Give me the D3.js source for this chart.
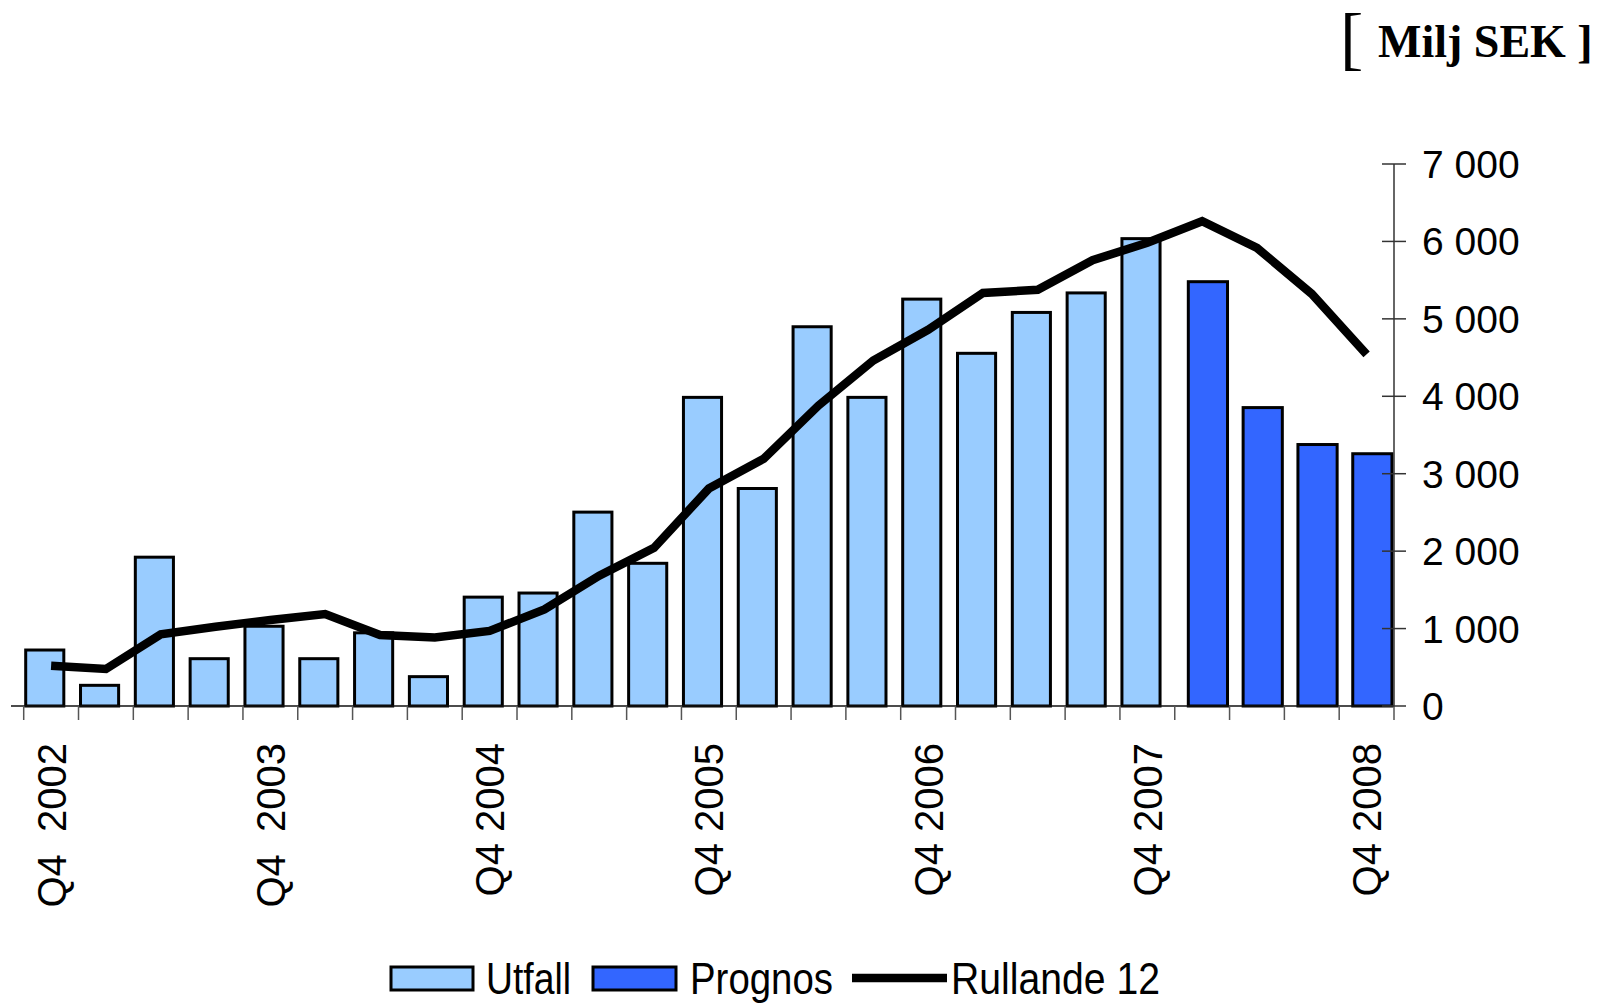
<!DOCTYPE html>
<html><head><meta charset="utf-8">
<script src="https://cdn.jsdelivr.net/npm/d3@7"></script>
<style>
html,body{margin:0;padding:0;background:#fff;}
svg{display:block;}
text{font-family:"Liberation Sans",Arial,sans-serif;fill:#000;}
</style></head>
<body>
<svg id="chart" width="1606" height="1005"></svg>
<script>
const categories = ["Q4 2002","Q1 2003","Q2 2003","Q3 2003","Q4 2003","Q1 2004","Q2 2004","Q3 2004","Q4 2004","Q1 2005","Q2 2005","Q3 2005","Q4 2005","Q1 2006","Q2 2006","Q3 2006","Q4 2006","Q1 2007","Q2 2007","Q3 2007","Q4 2007","Q1 2008","Q2 2008","Q3 2008","Q4 2008"];
const utfall = [723, 267, 1922, 611, 1030, 611, 945, 379, 1406, 1459, 2504, 1843, 3986, 2809, 4898, 3986, 5255, 4555, 5083, 5335, 6036, null, null, null, null];
const prognos = [null, null, null, null, null, null, null, null, null, null, null, null, null, null, null, null, null, null, null, null, null, 5480, 3854, 3377, 3258];
const rullande = [520, 478, 925, 1023, 1110, 1188, 917, 885, 970, 1247, 1684, 2042, 2809, 3192, 3880, 4462, 4859, 5335, 5375, 5758, 5983, 6261, 5916, 5322, 4541];
const yTicks = [0, 1000, 2000, 3000, 4000, 5000, 6000, 7000];
const xTickLabels = {"Q4 2002":"Q4  2002","Q4 2003":"Q4  2003","Q4 2004":"Q4 2004","Q4 2005":"Q4 2005","Q4 2006":"Q4 2006","Q4 2007":"Q4 2007","Q4 2008":"Q4 2008"};
const legendItems = ["Utfall","Prognos","Rullande 12"];

const svg = d3.select("#chart");
const x = d3.scaleBand().domain(categories).range([23.7, 1394]).paddingInner(0).paddingOuter(0);
const y = d3.scaleLinear().domain([0, 7000]).range([706, 164]);
const bw = x.bandwidth();

// Utfall bars
svg.append("g").selectAll("rect").data(categories.map((c,i)=>({c,v:utfall[i]})).filter(d=>d.v!=null))
  .join("rect")
  .attr("x", d => x(d.c) + 2)
  .attr("width", bw*0.75 - 3)
  .attr("y", d => y(d.v))
  .attr("height", d => y(0) - y(d.v))
  .attr("fill", "#99CCFF").attr("stroke", "#000").attr("stroke-width", 3);

// Prognos bars
svg.append("g").selectAll("rect").data(categories.map((c,i)=>({c,v:prognos[i]})).filter(d=>d.v!=null))
  .join("rect")
  .attr("x", d => x(d.c) + bw*0.22 + 1.5)
  .attr("width", bw*0.77 - 3)
  .attr("y", d => y(d.v))
  .attr("height", d => y(0) - y(d.v))
  .attr("fill", "#3366FF").attr("stroke", "#000").attr("stroke-width", 3);

// X axis
const xa = svg.append("g");
xa.append("line").attr("x1", 11).attr("x2", 1394).attr("y1", y(0)).attr("y2", y(0)).attr("stroke", "#111").attr("stroke-width", 1.5);
const bounds = categories.map(c => x(c)).concat([x.range()[1]]);
xa.selectAll("line.t").data(bounds).join("line").attr("class","t")
  .attr("x1", d=>d).attr("x2", d=>d).attr("y1", y(0)).attr("y2", y(0)+14)
  .attr("stroke", "#555").attr("stroke-width", 1.5);
xa.selectAll("text").data(categories.filter(c => xTickLabels[c]))
  .join("text")
  .attr("transform", d => `translate(${x(d)+bw/2},743) rotate(-90)`)
  .attr("text-anchor", "end").attr("dy", "0.36em")
  .style("white-space","pre")
  .attr("font-size", 40)
  .text(d => xTickLabels[d]);

// Y axis (right)
const ya = svg.append("g");
ya.append("line").attr("x1", 1394).attr("x2", 1394).attr("y1", y(7000)).attr("y2", y(0)).attr("stroke", "#333").attr("stroke-width", 1.5);
ya.selectAll("line.t").data(yTicks).join("line").attr("class","t")
  .attr("x1", 1382).attr("x2", 1406).attr("y1", d=>y(d)).attr("y2", d=>y(d))
  .attr("stroke", "#333").attr("stroke-width", 1.5);
const fmt = v => d3.format(",")(v).replace(/,/g, " ");
ya.selectAll("text").data(yTicks).join("text")
  .attr("x", 1422).attr("y", d=>y(d)).attr("dy","0.36em")
  .attr("font-size", 39).text(d => fmt(d));

// Rolling line
const line = d3.line().x((d,i)=>x(categories[i]) + bw/2).y(d=>y(d));
svg.append("path").attr("d", line(rullande)).attr("fill","none").attr("stroke","#000").attr("stroke-width",8.5).attr("stroke-linejoin","miter");

// Unit title
svg.append("text").attr("x", 1340).attr("y", 62).attr("font-size", 70)
  .style("font-family", "'Liberation Serif','Times New Roman',serif").text("[");
svg.append("text").attr("x", 1378).attr("y", 57).attr("font-size", 46).attr("font-weight","bold")
  .style("font-family", "'Liberation Serif','Times New Roman',serif").text("Milj SEK ]");

// Legend
const lg = svg.append("g");
lg.append("rect").attr("x", 391).attr("y", 967).attr("width", 82).attr("height", 23).attr("fill","#99CCFF").attr("stroke","#000").attr("stroke-width",3);
lg.append("rect").attr("x", 593).attr("y", 967).attr("width", 83).attr("height", 23).attr("fill","#3366FF").attr("stroke","#000").attr("stroke-width",3);
lg.append("line").attr("x1", 852).attr("x2", 947).attr("y1", 978).attr("y2", 978).attr("stroke","#000").attr("stroke-width",8.5);
const lx = [486, 690, 951];
const lw = [85, 143, 209];
lg.selectAll("text").data(legendItems).join("text")
  .attr("x", (d,i)=>lx[i]).attr("y", 994).attr("font-size", 44)
  .attr("textLength", (d,i)=>lw[i]).attr("lengthAdjust","spacingAndGlyphs")
  .text(d=>d);
</script>
</body></html>
